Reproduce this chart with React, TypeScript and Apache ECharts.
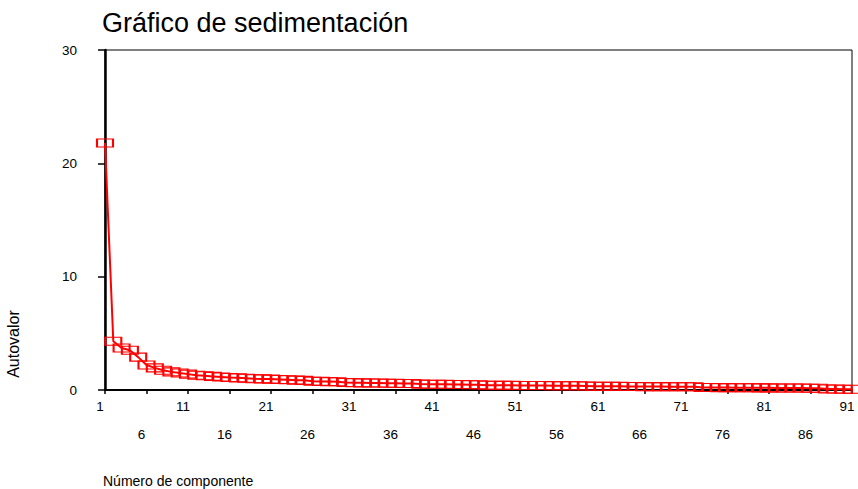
import React, { useEffect, useRef } from 'react';
import * as echarts from 'echarts';

const FONT = '"Liberation Sans", Arial, Helvetica, sans-serif';

const titleText = 'Gráfico de sedimentación';
const yAxisTitle = 'Autovalor';
const xAxisTitle = 'Número de componente';

const componentNumbers: string[] = Array.from({ length: 91 }, (_, i) => String(i + 1));

const eigenvalues: number[] = [
  21.8, 4.3, 3.7, 3.5, 2.9, 2.2, 1.95, 1.75, 1.6, 1.5,
  1.4, 1.3, 1.25, 1.2, 1.15, 1.1, 1.07, 1.04, 1.0, 0.98,
  0.96, 0.93, 0.9, 0.87, 0.85, 0.78, 0.76, 0.74, 0.72, 0.66,
  0.64, 0.63, 0.62, 0.61, 0.6, 0.59, 0.58, 0.57, 0.52, 0.51,
  0.5, 0.5, 0.49, 0.48, 0.47, 0.46, 0.42, 0.42, 0.41, 0.41,
  0.4, 0.4, 0.39, 0.39, 0.38, 0.38, 0.37, 0.37, 0.36, 0.33,
  0.33, 0.32, 0.32, 0.31, 0.31, 0.3, 0.3, 0.3, 0.29, 0.29,
  0.28, 0.28, 0.22, 0.22, 0.21, 0.21, 0.2, 0.2, 0.2, 0.19,
  0.19, 0.18, 0.18, 0.17, 0.17, 0.16, 0.15, 0.09, 0.08, 0.07,
  0.06,
];

const yMin = 0;
const yMax = 30;
const yStep = 10;

export default function App() {
  const ref = useRef<HTMLDivElement>(null);

  useEffect(() => {
    if (!ref.current) return;
    const chart = echarts.init(ref.current, undefined, { renderer: 'svg' });
    const labelStyle = { fontSize: 13.5, color: '#000', fontFamily: FONT };
    chart.setOption({
      animation: false,
      backgroundColor: '#fff',
      title: {
        text: titleText,
        left: 97,
        top: 4,
        textStyle: { fontSize: 27, fontWeight: 'normal', color: '#000', fontFamily: FONT },
      },
      grid: {
        left: 105,
        right: 6,
        top: 50,
        bottom: 99,
        show: true,
        borderColor: '#000',
        borderWidth: 1,
        backgroundColor: 'transparent',
      },
      xAxis: [
        {
          type: 'category',
          data: componentNumbers,
          boundaryGap: false,
          axisLine: { show: true, lineStyle: { color: '#000', width: 2 } },
          axisTick: {
            show: true,
            interval: (i: number) => i % 5 === 0,
            length: 4,
            lineStyle: { color: '#000', width: 1.5 },
          },
          axisLabel: {
            ...labelStyle,
            interval: (i: number) => i % 10 === 0,
            margin: 9,
            padding: [0, 10, 0, 0],
          },
          splitLine: { show: false },
        },
        {
          type: 'category',
          data: componentNumbers,
          boundaryGap: false,
          position: 'bottom',
          axisLine: { show: false },
          axisTick: { show: false },
          axisLabel: {
            ...labelStyle,
            interval: (i: number) => i % 10 === 5,
            margin: 37,
            padding: [0, 10, 0, 0],
          },
          splitLine: { show: false },
        },
      ],
      yAxis: {
        type: 'value',
        min: yMin,
        max: yMax,
        interval: yStep,
        axisLine: { show: true, lineStyle: { color: '#000', width: 2.5 } },
        axisTick: { show: true, length: 7, lineStyle: { color: '#000', width: 1.5 } },
        axisLabel: { ...labelStyle, margin: 28 },
        splitLine: { show: false },
      },
      graphic: [
        {
          type: 'text',
          x: 13,
          y: 344,
          rotation: Math.PI / 2,
          style: {
            text: yAxisTitle,
            fontSize: 16,
            fill: '#000',
            fontFamily: FONT,
            align: 'center',
            verticalAlign: 'middle',
          },
        },
        {
          type: 'text',
          x: 103,
          y: 474,
          style: {
            text: xAxisTitle,
            fontSize: 14,
            fill: '#000',
            fontFamily: FONT,
            align: 'left',
            verticalAlign: 'top',
          },
        },
      ],
      series: [
        {
          type: 'line',
          xAxisIndex: 0,
          data: eigenvalues,
          symbol: 'rect',
          symbolSize: [16, 8],
          showAllSymbol: true,
          lineStyle: { color: '#ff0000', width: 2 },
          itemStyle: { color: 'rgba(255,255,255,0)', borderColor: '#ff0000', borderWidth: 1.5 },
          z: 3,
        },
      ],
    });
    return () => chart.dispose();
  }, []);

  return <div ref={ref} style={{ width: 858, height: 489, position: 'absolute', left: 0, top: 0 }} />;
}
